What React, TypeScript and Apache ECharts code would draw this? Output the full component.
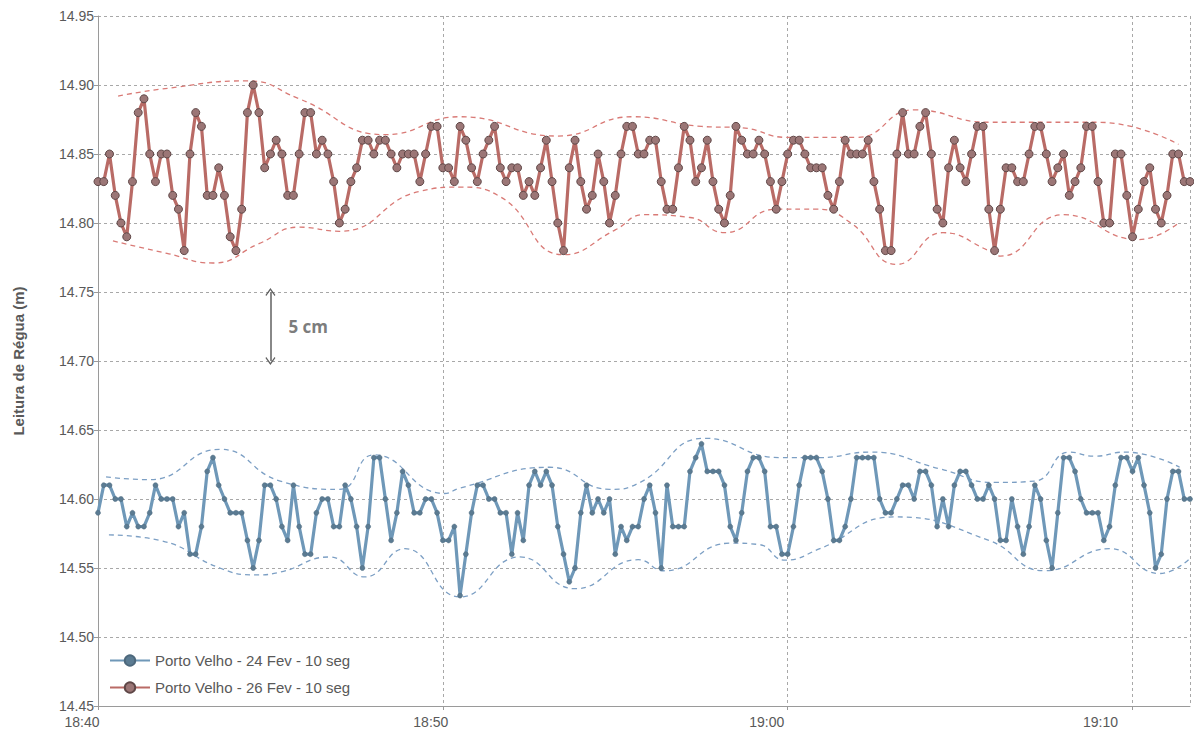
import React, { useEffect, useRef } from "react";
import * as echarts from "echarts";

// Readings every 10 s starting at 18:40:00
const STEP_SECONDS = 10;
const xTickLabels = ["18:40", "18:50", "19:00", "19:10"];
const yTicks = [14.45, 14.5, 14.55, 14.6, 14.65, 14.7, 14.75, 14.8, 14.85, 14.9, 14.95];

const fev24 = [
  14.59, 14.61, 14.61, 14.60, 14.60, 14.58, 14.59, 14.58, 14.58, 14.59,
  14.61, 14.60, 14.60, 14.60, 14.58, 14.59, 14.56, 14.56, 14.58, 14.62,
  14.63, 14.61, 14.60, 14.59, 14.59, 14.59, 14.57, 14.55, 14.57, 14.61,
  14.61, 14.60, 14.58, 14.57, 14.61, 14.58, 14.56, 14.56, 14.59, 14.60,
  14.60, 14.58, 14.58, 14.61, 14.60, 14.58, 14.55, 14.58, 14.63, 14.63,
  14.60, 14.57, 14.59, 14.62, 14.61, 14.59, 14.59, 14.60, 14.60, 14.59,
  14.57, 14.57, 14.58, 14.53, 14.56, 14.59, 14.61, 14.61, 14.60, 14.60,
  14.59, 14.59, 14.56, 14.59, 14.57, 14.61, 14.62, 14.61, 14.62, 14.61,
  14.58, 14.56, 14.54, 14.55, 14.59, 14.61, 14.59, 14.60, 14.59, 14.60,
  14.56, 14.58, 14.57, 14.58, 14.58, 14.60, 14.61, 14.59, 14.55, 14.61,
  14.58, 14.58, 14.58, 14.62, 14.63, 14.64, 14.62, 14.62, 14.62, 14.61,
  14.58, 14.57, 14.59, 14.62, 14.63, 14.63, 14.62, 14.58, 14.58, 14.56,
  14.56, 14.58, 14.61, 14.63, 14.63, 14.63, 14.62, 14.60, 14.57, 14.57,
  14.58, 14.60, 14.63, 14.63, 14.63, 14.63, 14.60, 14.59, 14.59, 14.60,
  14.61, 14.61, 14.60, 14.62, 14.62, 14.61, 14.58, 14.60, 14.58, 14.61,
  14.62, 14.62, 14.61, 14.60, 14.60, 14.61, 14.60, 14.57, 14.57, 14.60,
  14.58, 14.56, 14.58, 14.61, 14.60, 14.57, 14.55, 14.59, 14.63, 14.63,
  14.62, 14.60, 14.59, 14.59, 14.59, 14.57, 14.58, 14.61, 14.63, 14.63,
  14.62, 14.63, 14.61, 14.59, 14.55, 14.56, 14.60, 14.62, 14.62, 14.60, 14.60,
];

const fev26 = [
  14.83, 14.83, 14.85, 14.82, 14.80, 14.79, 14.83, 14.88, 14.89, 14.85,
  14.83, 14.85, 14.85, 14.82, 14.81, 14.78, 14.85, 14.88, 14.87, 14.82,
  14.82, 14.84, 14.82, 14.79, 14.78, 14.81, 14.88, 14.90, 14.88, 14.84,
  14.85, 14.86, 14.85, 14.82, 14.82, 14.85, 14.88, 14.88, 14.85, 14.86,
  14.85, 14.83, 14.80, 14.81, 14.83, 14.84, 14.86, 14.86, 14.85, 14.86,
  14.86, 14.85, 14.84, 14.85, 14.85, 14.85, 14.83, 14.85, 14.87, 14.87,
  14.84, 14.84, 14.83, 14.87, 14.86, 14.84, 14.83, 14.85, 14.86, 14.87,
  14.84, 14.83, 14.84, 14.84, 14.82, 14.83, 14.82, 14.84, 14.86, 14.83,
  14.80, 14.78, 14.84, 14.86, 14.83, 14.81, 14.82, 14.85, 14.83, 14.80,
  14.82, 14.85, 14.87, 14.87, 14.85, 14.85, 14.86, 14.86, 14.83, 14.81,
  14.81, 14.84, 14.87, 14.86, 14.83, 14.84, 14.86, 14.83, 14.81, 14.80,
  14.82, 14.87, 14.86, 14.85, 14.85, 14.86, 14.85, 14.83, 14.81, 14.83,
  14.85, 14.86, 14.86, 14.85, 14.84, 14.84, 14.84, 14.82, 14.81, 14.83,
  14.86, 14.85, 14.85, 14.85, 14.86, 14.83, 14.81, 14.78, 14.78, 14.85,
  14.88, 14.85, 14.85, 14.87, 14.88, 14.85, 14.81, 14.80, 14.84, 14.86,
  14.84, 14.83, 14.85, 14.87, 14.87, 14.81, 14.78, 14.81, 14.84, 14.84,
  14.83, 14.83, 14.85, 14.87, 14.87, 14.85, 14.83, 14.84, 14.85, 14.82,
  14.83, 14.84, 14.87, 14.87, 14.83, 14.80, 14.80, 14.85, 14.85, 14.82,
  14.79, 14.81, 14.83, 14.84, 14.81, 14.80, 14.82, 14.85, 14.85, 14.83, 14.83,
];

// Hand-drawn envelope curves: [seconds after 18:40, level]
const fev26Upper = [
  [35, 14.892], [110, 14.897], [260, 14.903], [350, 14.89], [500, 14.864],
  [630, 14.877], [800, 14.863], [930, 14.877], [1050, 14.870], [1120, 14.869],
  [1200, 14.862], [1320, 14.862], [1420, 14.882], [1550, 14.873], [1740, 14.873],
  [1880, 14.857],
];
const fev26Lower = [
  [26, 14.787], [120, 14.778], [200, 14.771], [280, 14.785], [350, 14.797],
  [420, 14.794], [560, 14.823], [630, 14.826], [700, 14.819], [810, 14.777],
  [900, 14.795], [950, 14.806], [1030, 14.804], [1090, 14.793], [1180, 14.81],
  [1250, 14.81], [1310, 14.80], [1390, 14.770], [1470, 14.793], [1550, 14.78],
  [1570, 14.776], [1680, 14.806], [1810, 14.788], [1880, 14.80],
];
const fev24Upper = [
  [14, 14.616], [90, 14.614], [212, 14.636], [317, 14.613], [420, 14.607],
  [480, 14.632], [603, 14.604], [630, 14.608], [786, 14.623], [890, 14.607],
  [943, 14.612], [1056, 14.644], [1186, 14.630], [1256, 14.630], [1343, 14.634],
  [1464, 14.622], [1560, 14.612], [1630, 14.613], [1690, 14.634], [1734, 14.631],
  [1786, 14.634], [1882, 14.623],
];
const fev24Lower = [
  [19, 14.574], [108, 14.570], [212, 14.550], [273, 14.545], [317, 14.547],
  [403, 14.558], [464, 14.5435], [534, 14.564], [630, 14.529], [734, 14.558],
  [830, 14.535], [940, 14.556], [985, 14.548], [1100, 14.568], [1150, 14.567],
  [1195, 14.5557], [1256, 14.564], [1386, 14.587], [1550, 14.570], [1647, 14.548],
  [1760, 14.564], [1847, 14.546], [1900, 14.557],
];

// "5 cm" annotation
const annoX = 300;
const annoTop = 14.75;
const annoBottom = 14.7;
const annoText = "5 cm";

const nameBlue = "Porto Velho - 24 Fev - 10 seg";
const nameRed = "Porto Velho - 26 Fev - 10 seg";

const toPairs = (vals: number[]) => vals.map((v, i) => [i * STEP_SECONDS, v]);

// horizontal nudge of each time label (the scanned labels sit left of their gridlines)
const xLabelShift = [16, 12, 21, 32];

export default function App() {
  const ref = useRef<HTMLDivElement>(null);
  useEffect(() => {
    if (!ref.current) return;
    const chart = echarts.init(ref.current, undefined, { renderer: "svg" });
    const font = "'Liberation Sans', Arial, sans-serif";
    const lastSec = (fev26.length - 1) * STEP_SECONDS;
    const envStyle = (color: string) => ({
      type: "line",
      smooth: 0.5,
      showSymbol: false,
      silent: true,
      lineStyle: { color, width: 1.3, type: [5, 4] },
      z: 1,
    });
    const rich: Record<string, any> = {};
    xLabelShift.forEach((s, k) => {
      rich["s" + k] = {
        color: "#595959",
        fontSize: 14,
        fontFamily: font,
        padding: [0, 2 * s, 0, 0],
      };
    });
    chart.setOption({
      animation: false,
      backgroundColor: "#ffffff",
      textStyle: { fontFamily: font },
      grid: { left: 98, right: 4, top: 16, bottom: 36 },
      xAxis: {
        type: "value",
        min: 0,
        max: lastSec,
        interval: 600,
        axisLine: { show: true, lineStyle: { color: "#9a9a9a", width: 1 } },
        axisTick: { show: true, length: 4, lineStyle: { color: "#9a9a9a" } },
        axisLabel: {
          color: "#595959",
          fontSize: 14,
          fontFamily: font,
          margin: 9,
          showMaxLabel: false,
          rich,
          formatter: (v: number) => {
            const k = Math.round(v / 600);
            const t = xTickLabels[k];
            return t ? `{s${k}|${t}}` : "";
          },
        },
        splitLine: { show: true, lineStyle: { color: "#a8a8a8", type: [3, 3], width: 1 } },
      },
      yAxis: {
        type: "value",
        min: yTicks[0],
        max: yTicks[yTicks.length - 1],
        interval: 0.05,
        name: "Leitura de Régua (m)",
        nameLocation: "middle",
        nameGap: 72,
        nameTextStyle: { color: "#595959", fontSize: 15, fontWeight: "bold", fontFamily: font },
        axisLine: { show: true, lineStyle: { color: "#9a9a9a", width: 1 } },
        axisTick: { show: true, length: 4, lineStyle: { color: "#9a9a9a" } },
        axisLabel: {
          color: "#595959",
          fontSize: 14,
          fontFamily: font,
          margin: 4,
          formatter: (v: number) => v.toFixed(2),
        },
        splitLine: { show: true, lineStyle: { color: "#a8a8a8", type: [3, 3], width: 1 } },
      },
      legend: {
        orient: "vertical",
        left: 104,
        top: 648,
        itemWidth: 40,
        itemHeight: 13,
        itemGap: 12,
        data: [nameBlue, nameRed],
        textStyle: { color: "#595959", fontSize: 15, fontFamily: font },
      },
      series: [
        { name: "env24u", data: fev24Upper, ...envStyle("#7c9fc4") },
        { name: "env24l", data: fev24Lower, ...envStyle("#7c9fc4") },
        { name: "env26u", data: fev26Upper, ...envStyle("#d97a76") },
        { name: "env26l", data: fev26Lower, ...envStyle("#d97a76") },
        {
          name: nameBlue,
          type: "line",
          data: toPairs(fev24),
          symbol: "circle",
          symbolSize: 5,
          showAllSymbol: true,
          lineStyle: { color: "#6f98b8", width: 3.2 },
          itemStyle: { color: "#5b7b92", borderColor: "#4d687c", borderWidth: 0.5 },
          z: 3,
        },
        {
          name: nameRed,
          type: "line",
          data: toPairs(fev26),
          symbol: "circle",
          symbolSize: 8,
          showAllSymbol: true,
          lineStyle: { color: "#b96b66", width: 3.2 },
          itemStyle: { color: "#9b7676", borderColor: "#5f4747", borderWidth: 1 },
          z: 3,
        },
        {
          name: "anno",
          type: "scatter",
          data: [[annoX, (annoTop + annoBottom) / 2]],
          symbolSize: 0,
          silent: true,
          label: {
            show: true,
            position: "right",
            distance: 18,
            formatter: annoText,
            color: "#595959",
            fontSize: 17,
            fontWeight: "bold",
            fontFamily: "'Open Sans', sans-serif",
          },
          markLine: {
            silent: true,
            symbol: [
              "path://M0,0 L6,8 L5,9 L0,2.5 L-5,9 L-6,8 Z",
              "path://M0,0 L6,8 L5,9 L0,2.5 L-5,9 L-6,8 Z",
            ],
            symbolSize: [10, 8],
            label: { show: false },
            lineStyle: { color: "#606060", width: 1.5, type: "solid" },
            data: [[{ coord: [annoX, annoTop] }, { coord: [annoX, annoBottom] }]],
          },
        },
      ],
    });
    return () => chart.dispose();
  }, []);
  return (
    <div
      ref={ref}
      style={{ position: "fixed", left: 0, top: 0, width: 1194, height: 742 }}
    />
  );
}
